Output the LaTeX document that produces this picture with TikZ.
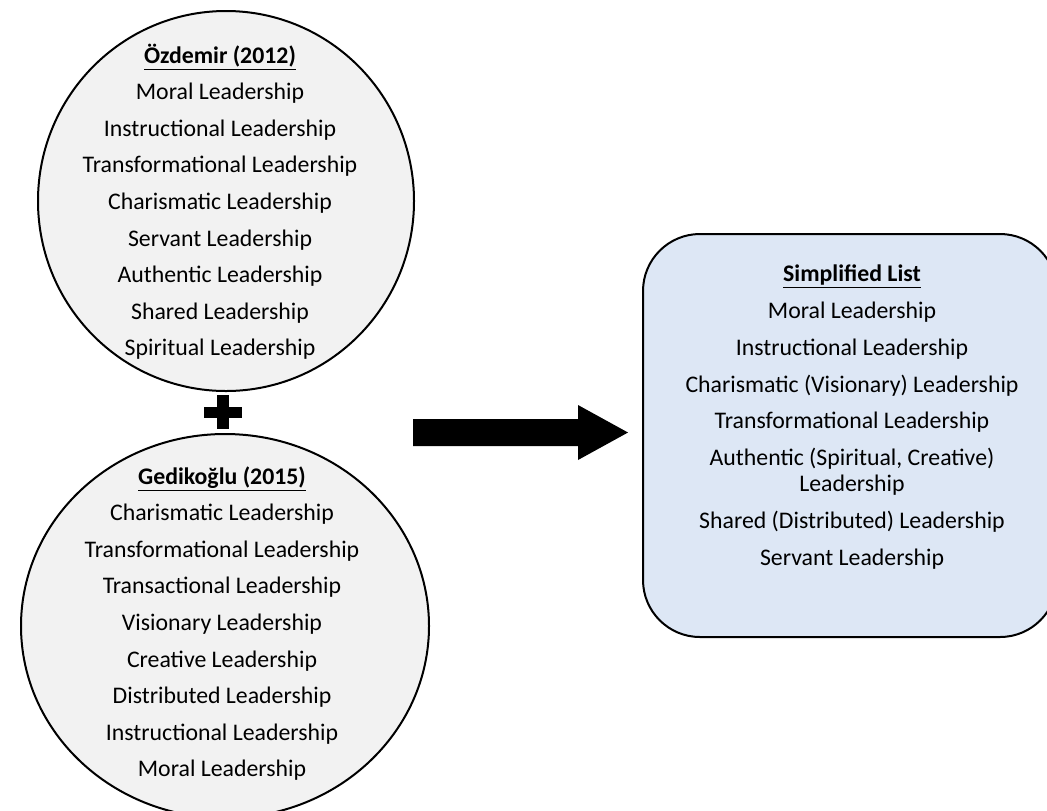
\documentclass[tikz,border=0pt]{standalone}
\usepackage{fontspec}
\setmainfont{Carlito}
\usetikzlibrary{shapes.geometric}

\definecolor{sourcegray}{RGB}{242,242,242}
\definecolor{listblue}{RGB}{221,231,245}

\begin{document}
\begin{tikzpicture}[
    x=0.5pt, y=-0.5pt,
    % Ellipsen der beiden Quellen
    source/.style={ellipse, draw=black, line width=1pt, fill=sourcegray, inner sep=0pt},
    % Kasten mit der vereinfachten Liste
    result/.style={rectangle, rounded corners=28.5pt, draw=black, line width=1pt, fill=listblue, inner sep=0pt},
    % einzelne Zeilen
    entry/.style={inner sep=0pt, text height=8.6pt, text depth=2.6pt, font=\fontsize{11.9}{14}\selectfont},
    heading/.style={entry, font=\fontsize{11.9}{14}\selectfont\bfseries}
]

\useasboundingbox (0,0) rectangle (1047,810);
\clip (0,0) rectangle (1047,810);

% --- OBEN: OEZDEMIR ---
\node[source, minimum width=188pt, minimum height=190pt] (ozdemir) at (226,201) {};
\node[heading] (oz-title) at (220,57) {\underline{Özdemir (2012)}};
\foreach \t [count=\i] in {Moral Leadership, Instructional Leadership,
    Transformational Leadership, Charismatic Leadership, Servant Leadership,
    Authentic Leadership, Shared Leadership, Spiritual Leadership}
    \node[entry] (oz-\i) at (220,57+\i*36.6) {\t};

% Pluszeichen
\fill (217,395) rectangle (229,429);
\fill (204,407) rectangle (242,418);

% --- UNTEN: GEDIKOGLU ---
\node[source, minimum width=204pt, minimum height=192pt] (gedikoglu) at (225,626) {};
\node[heading] (ge-title) at (222,478) {\underline{Gedikoğlu (2015)}};
\foreach \t [count=\i] in {Charismatic Leadership, Transformational Leadership,
    Transactional Leadership, Visionary Leadership, Creative Leadership,
    Distributed Leadership, Instructional Leadership, Moral Leadership}
    \node[entry] (ge-\i) at (222,478+\i*36.6) {\t};

% Blockpfeil
\fill (413,419) -- (578,419) -- (578,405) -- (628,432.5) -- (578,460)
    -- (578,446) -- (413,446) -- cycle;

% --- RECHTS: VEREINFACHTE LISTE ---
\node[result, minimum width=207pt, minimum height=201.5pt] (simple) at (850,435.5) {};
\node[heading] (si-title) at (852,275) {\underline{Simplified List}};
\foreach \y/\t [count=\i] in {312/Moral Leadership, 349/Instructional Leadership,
    386/Charismatic (Visionary) Leadership, 422.6/Transformational Leadership,
    459/{Authentic (Spiritual, Creative)}, 485/Leadership,
    522/Shared (Distributed) Leadership, 559/Servant Leadership}
    \node[entry] (si-\i) at (852,\y) {\t};

\end{tikzpicture}
\end{document}
